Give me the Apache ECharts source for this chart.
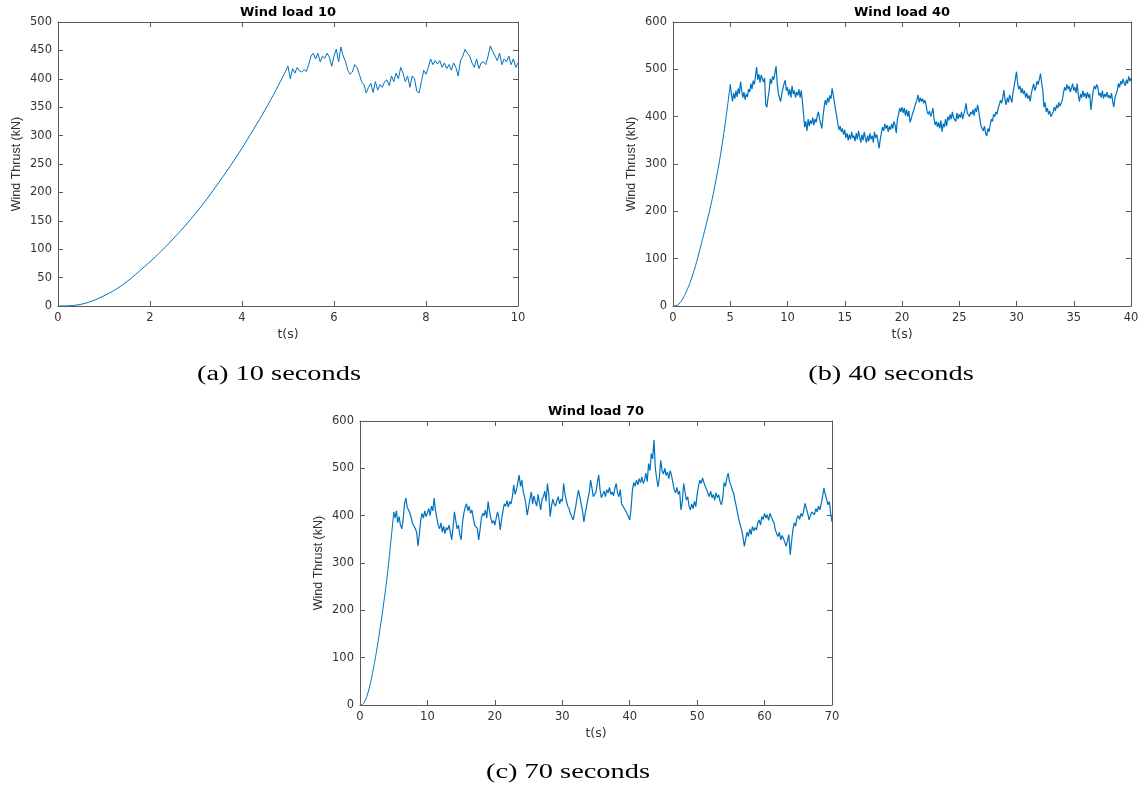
<!DOCTYPE html>
<html><head><meta charset="utf-8">
<script src="https://cdn.jsdelivr.net/npm/echarts@6/dist/echarts.min.js"></script>
<style>html,body{margin:0;padding:0;background:#fff}#c{width:1144px;height:794px}</style>
</head><body><div id="c"></div>
<script>
// ---- data ----
const titles = ['Wind load 10', 'Wind load 40', 'Wind load 70'];
const captions = ['(a) 10 seconds', '(b) 40 seconds', '(c) 70 seconds'];
const xName = 't(s)';
const yName = 'Wind Thrust (kN)';
const xMaxes = [10, 40, 70];
const xIntervals = [2, 5, 10];
const yMaxes = [500, 600, 600];
const yIntervals = [50, 100, 100];

// start-up ramp, sampled every 0.25 s from t = 0 to t = 5
const rampStep = 0.25;
const ramp10 = [0,0.5,3,9,18,29,43,60,78,97,118,140,164,190,218,247,278,311,345,382,422];
const ramp40 = [0,0.5,4,11,22,35,50,68,88,110,134,158,182,207,235,266,298,335,375,420,468];
const ramp70 = [0,0.5,3,9,18,29,43,60,78,97,118,140,164,188,214,240,268,300,335,370,408];

// turbulent part
const noise10Start = 5.05, noise10Step = 0.05;
const noise10 = [
400,418,410,420,414,412,416,413,425,440,
445,435,445,430,440,436,445,438,422,440,
452,430,456,440,430,415,408,412,425,420,
408,395,390,375,385,392,376,395,380,390,
385,395,398,388,405,395,410,400,420,410,
395,405,385,405,400,378,375,395,415,408,
420,435,425,432,426,432,420,428,418,425,
415,428,420,405,432,440,452,445,440,428,
420,435,418,428,430,425,440,458,448,440,
432,445,425,435,430,440,425,435,420,428];

const noise40Start = 5.1, noise40Step = 0.1;
const noise40 = [
448,432,450,438,455,442,460,448,474,455,
440,452,436,448,442,458,452,470,458,476,
468,485,505,478,490,472,488,480,473,482,
425,420,440,455,480,470,485,478,492,507,
470,449,440,432,448,460,470,477,455,462,
445,458,440,465,448,455,440,452,445,458,
440,455,432,405,378,390,370,395,380,392,
385,398,382,395,388,402,410,395,385,375,
400,420,435,425,440,430,445,438,460,445,
430,414,400,385,372,380,368,375,362,372,
355,365,350,362,352,368,355,360,348,365,
352,370,358,345,362,350,368,355,345,360,
348,365,352,360,345,368,355,362,348,333,
352,365,378,370,385,375,382,368,380,372,
385,375,390,382,365,395,405,418,410,420,
408,418,402,415,400,412,388,395,405,412,
420,428,435,446,430,440,432,438,428,435,
425,410,405,412,400,407,418,395,382,390,
378,388,375,392,368,385,378,395,380,400,
392,405,395,410,398,402,390,408,395,405,
398,410,395,405,415,428,408,412,400,410,
405,415,402,418,410,425,412,395,380,375,
370,380,365,359,375,368,382,395,390,405,
400,410,405,418,425,435,428,440,456,435,
425,440,430,446,438,430,452,465,480,495,
470,458,465,450,460,448,455,440,450,438,
445,432,450,460,470,455,462,475,468,480,
491,470,455,420,430,410,418,405,412,400,
396,410,420,412,425,418,430,422,420,435,
450,462,455,468,458,465,452,460,470,455,
462,450,470,445,432,448,440,455,442,450,
438,452,440,448,414,435,455,465,458,468,
462,445,450,440,455,438,448,442,452,440,
445,438,450,432,420,440,448,455,470,462,
475,468,480,472,465,478,470,485,475,481];

const noise70Start = 5.2, noise70Step = 0.2;
const noise70 = [
395,410,385,398,380,372,392,425,437,418,
412,405,395,384,378,373,365,336,360,390,
405,395,410,398,402,415,400,420,410,437,
410,395,380,372,385,365,378,362,375,370,
380,365,349,375,408,390,372,380,360,349,
385,405,418,425,410,420,405,412,395,380,
384,373,349,370,395,405,400,412,395,430,
410,395,384,390,380,395,408,395,370,392,
410,425,420,432,418,430,425,440,465,445,
454,470,486,462,475,451,440,425,401,418,
435,450,425,442,430,420,445,428,412,435,
440,452,430,468,445,398,420,435,425,420,
432,440,425,435,430,468,445,432,420,415,
405,398,391,405,420,438,454,440,425,410,
387,405,420,435,450,475,458,440,445,450,
470,486,455,438,445,452,440,455,448,460,
445,450,442,458,468,448,440,455,425,420,
418,410,405,398,391,415,454,470,462,475,
465,478,470,482,468,475,490,472,510,495,
531,520,560,500,478,461,480,517,495,488,
500,485,492,478,495,485,470,455,448,460,
445,452,412,430,468,450,433,440,420,412,
425,415,430,419,445,462,475,468,480,470,
462,455,448,440,452,438,445,433,448,438,
444,430,423,438,470,462,480,490,472,465,
454,448,433,420,405,391,380,370,355,335,
350,365,356,372,360,377,368,375,370,385,
391,380,398,392,405,395,402,390,405,398,
390,385,370,362,356,365,349,358,352,356,
335,348,360,317,345,370,385,378,395,400,
392,405,398,410,426,415,405,391,400,408,
410,402,415,408,420,412,425,440,458,445,
435,423,430,405,387];

// ---- build ----
function rampPairs(ramp) {
  return ramp.map((v, i) => [+(i * rampStep).toFixed(3), v]);
}
function noisePairs(ramp, start, step, vals) {
  const out = [[+((ramp.length - 1) * rampStep).toFixed(3), ramp[ramp.length - 1]]];
  vals.forEach((v, i) => out.push([+(start + i * step).toFixed(3), v]));
  return out;
}
const ramps = [ramp10, ramp40, ramp70];
const noises = [[noise10Start, noise10Step, noise10], [noise40Start, noise40Step, noise40], [noise70Start, noise70Step, noise70]];

const grids = [
  {left: 58, top: 22, width: 460, height: 284},
  {left: 673, top: 22, width: 458, height: 284},
  {left: 360, top: 421, width: 472, height: 284}
];
const lineWidths = [1, 1.2, 1.2];
const axisCol = '#5a5a5a';
const labCol = '#333';
const sans = '"DejaVu Sans", Verdana, sans-serif';
const lib = '"Liberation Sans", Arial, sans-serif';

const xAxis = [], yAxis = [], series = [], graphic = [];
grids.forEach((g, i) => {
  const base = {
    gridIndex: i, type: 'value', min: 0,
    axisLine: {show: true, onZero: false, lineStyle: {color: axisCol, width: 1}},
    axisTick: {show: true, inside: true, length: 5, lineStyle: {color: axisCol}},
    splitLine: {show: false}
  };
  xAxis.push(Object.assign({}, base, {
    position: 'bottom', max: xMaxes[i], interval: xIntervals[i],
    axisLabel: {color: labCol, fontSize: 11.5, fontFamily: sans, margin: 6},
    name: xName, nameLocation: 'middle', nameGap: 22,
    nameTextStyle: {color: labCol, fontSize: 12.5, fontFamily: sans}
  }));
  xAxis.push(Object.assign({}, base, {
    position: 'top', max: xMaxes[i], interval: xIntervals[i],
    axisLabel: {show: false}
  }));
  yAxis.push(Object.assign({}, base, {
    position: 'left', max: yMaxes[i], interval: yIntervals[i],
    axisLabel: {color: labCol, fontSize: 11.5, fontFamily: sans, margin: 6},
    name: yName, nameLocation: 'middle', nameGap: 35, nameRotate: 90,
    nameTextStyle: {color: labCol, fontSize: 12.5, fontFamily: lib}
  }));
  yAxis.push(Object.assign({}, base, {
    position: 'right', max: yMaxes[i], interval: yIntervals[i],
    axisLabel: {show: false}
  }));
  series.push({
    type: 'line', xAxisIndex: 2 * i, yAxisIndex: 2 * i,
    data: rampPairs(ramps[i]), showSymbol: false, symbol: 'none',
    smooth: 0.4,
    lineStyle: {color: '#0072BD', width: 1}, animation: false
  });
  series.push({
    type: 'line', xAxisIndex: 2 * i, yAxisIndex: 2 * i,
    data: noisePairs(ramps[i], noises[i][0], noises[i][1], noises[i][2]),
    showSymbol: false, symbol: 'none',
    lineStyle: {color: '#0072BD', width: lineWidths[i]}, animation: false
  });
  graphic.push({
    type: 'text', x: g.left + g.width / 2, y: g.top - 9,
    style: {text: titles[i], fill: '#000', font: 'bold 13px ' + sans, textAlign: 'center', textVerticalAlign: 'middle', verticalAlign: 'middle'}
  });
});
const capPos = [[279, 375], [891, 375], [568, 773]];
capPos.forEach((p, i) => {
  graphic.push({
    type: 'text', x: p[0], y: p[1], scaleX: 1.42,
    style: {text: captions[i], fill: '#000', font: '20px "Liberation Serif", serif', textAlign: 'center', textVerticalAlign: 'middle', verticalAlign: 'middle'}
  });
});

const chart = echarts.init(document.getElementById('c'), null, {renderer: 'canvas'});
chart.setOption({
  backgroundColor: '#fff', animation: false,
  grid: grids, xAxis: xAxis, yAxis: yAxis, series: series, graphic: graphic
});
</script></body></html>
